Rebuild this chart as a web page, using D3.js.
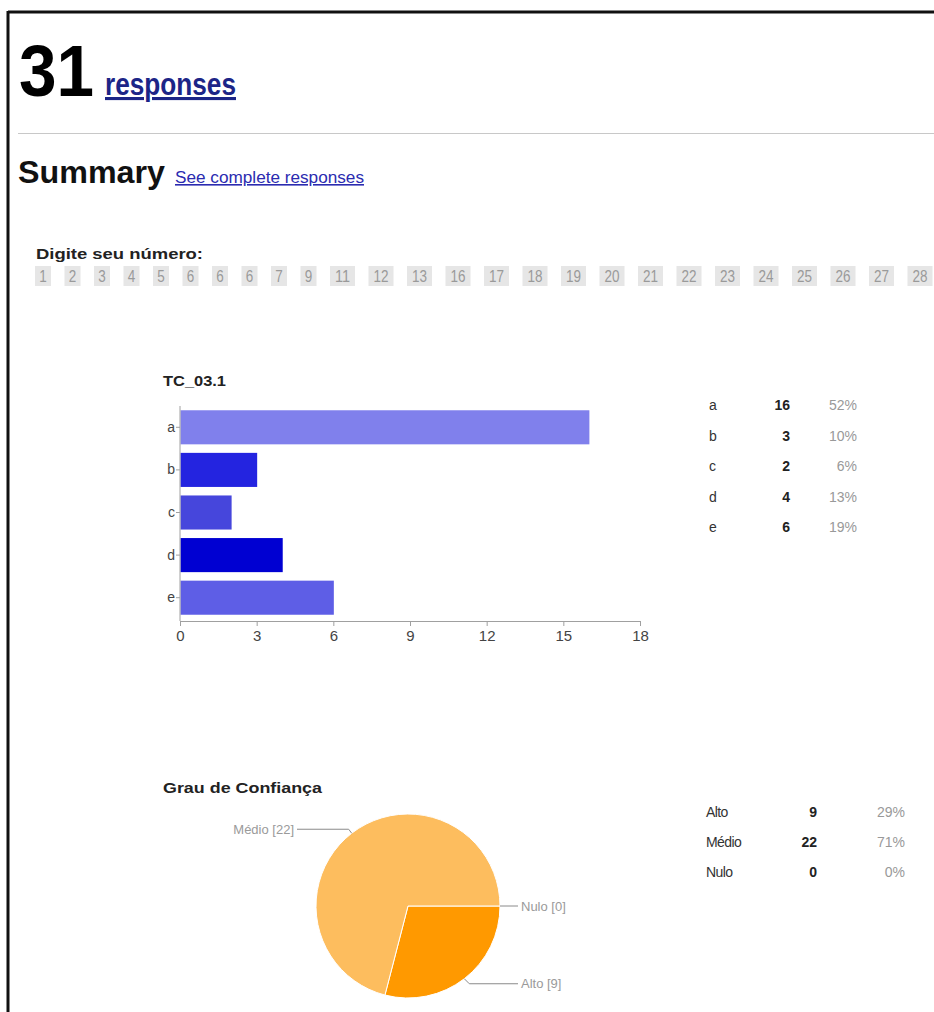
<!DOCTYPE html>
<html>
<head>
<meta charset="utf-8">
<script src="https://cdn.jsdelivr.net/npm/d3@7"></script>
<style>
  html, body { margin: 0; padding: 0; background: #fff; }
  svg { display: block; }
  text { font-family: "Liberation Sans", Arial, sans-serif; }
</style>
</head>
<body>
<svg id="page" width="934" height="1012"></svg>
<script>
// ---------- data ----------
const totalResponses = 31;
const respondentNumbers = ["1","2","3","4","5","6","6","6","7","9","11","12","13","16","17","18","19","20","21","22","23","24","25","26","27","28"];

const barTitle = "TC_03.1";
const barCategories = ["a", "b", "c", "d", "e"];
const barValues = [16, 3, 2, 4, 6];
const barPercents = ["52%", "10%", "6%", "13%", "19%"];
const barColors = ["#8080ec", "#2424e0", "#4646dc", "#0000d2", "#5e5ee6"];
const barTicks = [0, 3, 6, 9, 12, 15, 18];

const pieTitle = "Grau de Confiança";
const pieCategories = ["Alto", "Médio", "Nulo"];
const pieValues = [9, 22, 0];
const piePercents = ["29%", "71%", "0%"];
const pieColors = ["#ff9900", "#fdbd5e", "#ffcc80"];

// ---------- page ----------
const svg = d3.select("#page");
const squeeze = (sel, w) => sel.attr("textLength", w).attr("lengthAdjust", "spacingAndGlyphs");

// frame
svg.append("line").attr("x1", 8).attr("x2", 934).attr("y1", 12).attr("y2", 12)
  .attr("stroke", "#111").attr("stroke-width", 3);
svg.append("line").attr("x1", 8).attr("x2", 8).attr("y1", 11).attr("y2", 1012)
  .attr("stroke", "#111").attr("stroke-width", 3);

// header
squeeze(svg.append("text").attr("x", 19).attr("y", 96)
  .attr("font-size", 73).attr("font-weight", "bold").attr("fill", "#000")
  .text(totalResponses), 75);
squeeze(svg.append("text").attr("x", 105).attr("y", 95)
  .attr("font-size", 31).attr("font-weight", "bold").attr("fill", "#1c2587")
  .attr("text-decoration", "underline")
  .text("responses"), 131);

svg.append("line").attr("x1", 18).attr("x2", 934).attr("y1", 133.5).attr("y2", 133.5)
  .attr("stroke", "#c8c8c8").attr("stroke-width", 1);

squeeze(svg.append("text").attr("x", 18).attr("y", 183)
  .attr("font-size", 31).attr("font-weight", "bold").attr("fill", "#111")
  .text("Summary"), 147);
squeeze(svg.append("text").attr("x", 175).attr("y", 183)
  .attr("font-size", 16).attr("fill", "#2b2bb0")
  .attr("text-decoration", "underline")
  .text("See complete responses"), 189);

// respondent numbers
squeeze(svg.append("text").attr("x", 36).attr("y", 259)
  .attr("font-size", 15).attr("font-weight", "bold").attr("fill", "#222")
  .text("Digite seu número:"), 167);

let nx = 35;
const numG = svg.append("g");
respondentNumbers.forEach(n => {
  const w = 7 + 9 * n.length;
  const g = numG.append("g").attr("transform", `translate(${nx},266)`);
  g.append("rect").attr("width", w).attr("height", 20).attr("fill", "#e6e6e6");
  squeeze(g.append("text").attr("x", w / 2).attr("y", 16).attr("text-anchor", "middle")
    .attr("font-size", 16).attr("fill", "#9a9a9a")
    .text(n), 7.5 * n.length);
  nx += w + 13.5;
});

// ---------- bar chart ----------
const bx = d3.scaleLinear().domain([0, 18]).range([180, 640]);
const by = d3.scaleBand().domain(barCategories).range([406, 619]).paddingInner(0.2).paddingOuter(0.1);

squeeze(svg.append("text").attr("x", 163).attr("y", 386)
  .attr("font-size", 14).attr("font-weight", "bold").attr("fill", "#222")
  .text(barTitle), 63);

svg.append("g").selectAll("rect").data(barCategories).join("rect")
  .attr("x", bx(0) + 0.5)
  .attr("y", d => by(d))
  .attr("width", (d, i) => bx(barValues[i]) - bx(0))
  .attr("height", by.bandwidth())
  .attr("fill", (d, i) => barColors[i]);

const xAxis = svg.append("g").attr("transform", "translate(0,621)")
  .call(d3.axisBottom(bx).tickValues(barTicks).tickSize(6).tickSizeOuter(0));
xAxis.select(".domain").attr("stroke", "#a0a0a0");
xAxis.selectAll(".tick line").attr("stroke", "#a0a0a0").attr("y1", 0).attr("y2", 5);
xAxis.selectAll(".tick text").attr("font-size", 15).attr("fill", "#444")
  .attr("font-family", "'Liberation Sans', Arial, sans-serif").attr("dy", "0.95em").attr("y", 6);

const yAxis = svg.append("g").attr("transform", `translate(${bx(0)},0)`)
  .call(d3.axisLeft(by).tickSize(4).tickSizeOuter(0));
yAxis.select(".domain").attr("stroke", "#a0a0a0").attr("d", `M0,406V621`);
yAxis.selectAll(".tick line").attr("stroke", "#a0a0a0");
yAxis.selectAll(".tick text").attr("font-size", 14).attr("fill", "#444").attr("x", -5)
  .attr("font-family", "'Liberation Sans', Arial, sans-serif");

// bar table
const bRow = d3.scaleLinear().domain([0, 4]).range([410, 532]);
const bt = svg.append("g");
barCategories.forEach((c, i) => {
  bt.append("text").attr("x", 709).attr("y", bRow(i)).attr("font-size", 14).attr("fill", "#333").text(c);
  bt.append("text").attr("x", 790).attr("y", bRow(i)).attr("text-anchor", "end")
    .attr("font-size", 14).attr("font-weight", "bold").attr("fill", "#222").text(barValues[i]);
  bt.append("text").attr("x", 857).attr("y", bRow(i)).attr("text-anchor", "end")
    .attr("font-size", 14).attr("fill", "#999").text(barPercents[i]);
});

// ---------- pie chart ----------
squeeze(svg.append("text").attr("x", 163).attr("y", 793)
  .attr("font-size", 15).attr("font-weight", "bold").attr("fill", "#222")
  .text(pieTitle), 159);

const cx = 408, cy = 906, r = 92;
const pieData = pieCategories.map((c, i) => ({ name: c, value: pieValues[i], color: pieColors[i] }));
const arcs = d3.pie().sort(null).value(d => d.value)
  .startAngle(Math.PI / 2).endAngle(Math.PI / 2 + 2 * Math.PI)(pieData);
const arcGen = d3.arc().innerRadius(0).outerRadius(r);
const pg = svg.append("g").attr("transform", `translate(${cx},${cy})`);
pg.selectAll("path").data(arcs.filter(a => a.data.value > 0)).join("path")
  .attr("d", arcGen).attr("fill", d => d.data.color)
  .attr("stroke", "#fff").attr("stroke-width", 1);

// leader lines + labels
const lblG = svg.append("g");
arcs.forEach(a => {
  const mid = (a.startAngle + a.endAngle) / 2;
  const px = cx + r * Math.sin(mid), py = cy - r * Math.cos(mid);
  const right = Math.sin(mid) >= 0;
  let ex, ey;
  if (a.data.value === 0) { ex = px; ey = py; }
  else { ex = px + (right ? 5 : -3); ey = py + (Math.cos(mid) < 0 ? 5 : -4); }
  const hx = right ? 518 : 297;
  lblG.append("path")
    .attr("d", `M${px},${py}L${ex},${ey}L${hx},${ey}`)
    .attr("fill", "none").attr("stroke", "#8a8a8a").attr("stroke-width", 1);
  lblG.append("text").attr("x", right ? hx + 3 : hx - 3).attr("y", ey + 4.5)
    .attr("text-anchor", right ? "start" : "end")
    .attr("font-size", 13).attr("fill", "#9a9a9a")
    .text(`${a.data.name} [${a.data.value}]`);
});

// pie table
const pRow = d3.scaleLinear().domain([0, 2]).range([817, 877]);
const pt = svg.append("g");
pieCategories.forEach((c, i) => {
  pt.append("text").attr("x", 706).attr("y", pRow(i)).attr("font-size", 14).attr("fill", "#333")
    .attr("letter-spacing", -0.6).text(c);
  pt.append("text").attr("x", 817).attr("y", pRow(i)).attr("text-anchor", "end")
    .attr("font-size", 14).attr("font-weight", "bold").attr("fill", "#222").text(pieValues[i]);
  pt.append("text").attr("x", 905).attr("y", pRow(i)).attr("text-anchor", "end")
    .attr("font-size", 14).attr("fill", "#999").text(piePercents[i]);
});
</script>
</body>
</html>
